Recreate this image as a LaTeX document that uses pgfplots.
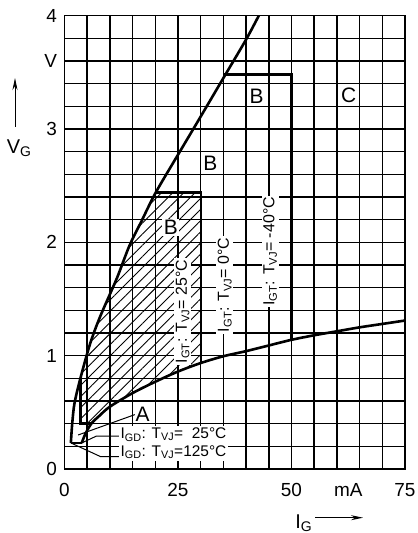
\documentclass[border=0pt]{standalone}
\usepackage{fontspec}
\setmainfont{Liberation Sans}
\usepackage{pgfplots}
\pgfplotsset{compat=1.18}
\usetikzlibrary{patterns.meta,arrows.meta}
\newcommand\sub[1]{\textsubscript{#1}}
\begin{document}
\begin{tikzpicture}[x=1bp,y=1bp]
\begin{axis}[
  at={(0,0)}, anchor=south west,
  scale only axis, width=340.5bp, height=453.3bp,
  xmin=0, xmax=75, ymin=0, ymax=4,
  xtick={0,25,50,75}, ytick={0,1,2,3,4},
  minor xtick={5,10,15,20,30,35,40,45,55,60,65,70},
  minor ytick={0.2,0.4,0.6,0.8,1.2,1.4,1.6,1.8,2.2,2.4,2.6,2.8,3.2,3.4,3.6,3.8},
  grid=both,
  major grid style={black, line width=1.45bp},
  minor grid style={black, line width=1.45bp},
  major tick length=0pt, minor tick length=0pt,
  axis line style={black, line width=1.6bp},
  /pgf/number format/assume math mode=true,
  tick label style={font=\fontsize{19}{21}\selectfont},
  xticklabel style={yshift=-10.5bp},
  yticklabel style={xshift=-4bp},
  extra x ticks={62.5}, extra x tick labels={mA},
  extra y ticks={3.6}, extra y tick labels={V},
  extra tick style={grid=none, major tick length=0pt},
]
% hatched region (T_VJ = 25 C)
\addplot[draw=none, pattern={Lines[angle=45,distance=7.9bp,line width=0.9bp]}] coordinates {
 (3.5,0.40) (3.5,0.80) (5.6,1.10) (7.8,1.34) (11.5,1.68) (14.3,1.97) (17,2.19) (20.1,2.44)
 (30,2.44) (30,0.935) (25,0.86) (20,0.77) (15,0.67) (10,0.55) (7.7,0.47) (5.9,0.40)};
% region outlines
\addplot[line width=2.4bp] coordinates {(3.5,0.80) (3.5,0.40) (5.9,0.40)};
\addplot[line width=2.4bp] coordinates {(20.1,2.44) (30,2.44) (30,0.935)};
\addplot[line width=2.4bp] coordinates {(28.4,3.0) (40,3.0) (40,1.04)};
\addplot[line width=2.4bp] coordinates {(35.1,3.48) (50,3.48) (50,1.14)};
% upper limit curve
\addplot[line width=2.6bp, smooth] coordinates {
 (1.4,0.23) (1.7,0.40) (2.2,0.58) (3.5,0.80) (5.6,1.10) (7.8,1.34) (11.5,1.68)
 (14.3,1.97) (17,2.19) (20.1,2.44) (25.4,2.8) (30,3.11) (35,3.45) (40,3.79) (42.8,4.0) (44,4.09)};
% corner segment
\addplot[line width=2.6bp] coordinates {(1.4,0.23) (3.8,0.23)};
% lower limit curve
\addplot[line width=2.6bp, smooth] coordinates {
 (3.8,0.23) (4.6,0.31) (5.9,0.40) (7.7,0.47) (10,0.55) (15,0.67) (20,0.77) (25,0.86)
 (30,0.935) (35,0.995) (40,1.04) (45,1.09) (50,1.14) (55,1.18) (60,1.215) (65,1.25)
 (70,1.28) (75,1.31)};
% leaders
\draw[line width=1bp] (axis cs:15.5,0.48) -- (axis cs:3.0,0.30);
\draw[line width=1bp] (axis cs:3.8,0.23) -- (axis cs:7.0,0.29) -- (axis cs:12,0.29);
\draw[line width=1bp] (axis cs:1.4,0.23) -- (axis cs:7.9,0.11) -- (axis cs:12,0.11);
% labels
\node[fill=white, inner sep=1bp, font=\fontsize{21}{22}\selectfont] at (axis cs:17.2,0.485) {A};
\node[fill=white, inner sep=1.5bp, font=\fontsize{21}{22}\selectfont] at (axis cs:23.4,2.13) {B};
\node[fill=white, inner sep=1bp, font=\fontsize{21}{22}\selectfont] at (axis cs:32.1,2.70) {B};
\node[fill=white, inner sep=1bp, font=\fontsize{21}{22}\selectfont] at (axis cs:42.3,3.29) {B};
\node[fill=white, inner sep=1bp, font=\fontsize{21}{22}\selectfont] at (axis cs:62.6,3.30) {C};
\node[fill=white, inner sep=1.5bp, rotate=90, font=\fontsize{16}{17}\selectfont] at (axis cs:26.0,1.39) {I\sub{GT}: T\sub{VJ}= 25°C};
\node[fill=white, inner sep=1.5bp, rotate=90, font=\fontsize{16}{17}\selectfont] at (axis cs:35.3,1.625) {I\sub{GT}: T\sub{VJ}= 0°C};
\node[fill=white, inner sep=1.5bp, rotate=90, font=\fontsize{16}{17}\selectfont] at (axis cs:45.3,1.92) {I\sub{GT}: T\sub{VJ}= -40°C};
\node[fill=white, anchor=north west, align=left, inner sep=1.5bp, font=\fontsize{15.5}{18}\selectfont] at (axis cs:12.0,0.38) {I\sub{GD}: T\sub{VJ}=\hphantom{1}25°C\\I\sub{GD}: T\sub{VJ}=125°C};
\end{axis}
\draw[line width=1.6bp] (0,0) rectangle (340.5,453.3);
% axis titles
\draw[line width=0.9bp, -{Stealth[length=12bp,width=5bp]}] (-49.5,342) -- (-49.5,391);
\node[anchor=base west, inner sep=0pt, font=\fontsize{20}{22}\selectfont] at (-57.8,315.7) {V\sub{G}};
\draw[line width=0.9bp, -{Stealth[length=12bp,width=5bp]}] (250.5,-48.7) -- (298.5,-48.7);
\node[anchor=base east, inner sep=0pt, font=\fontsize{20}{22}\selectfont] at (248,-59.3) {I\sub{G}};
\pgfresetboundingbox
\useasboundingbox (-64.5,-64) rectangle (352.5,469);
\end{tikzpicture}
\end{document}
